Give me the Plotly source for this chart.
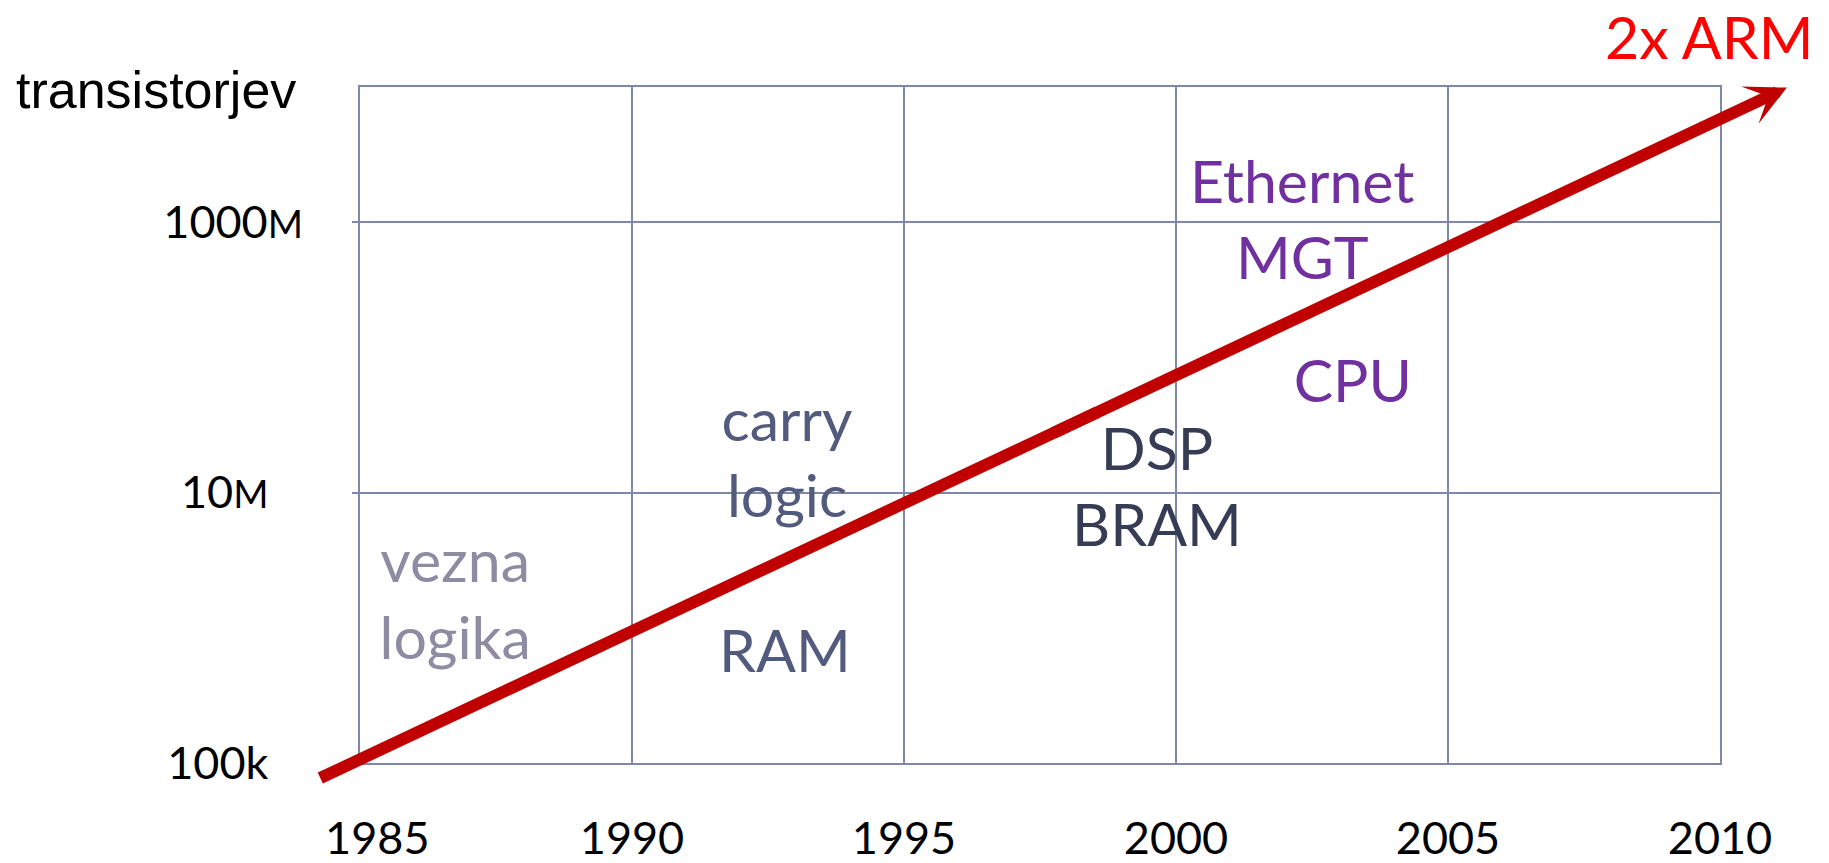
import numpy as np
import plotly.graph_objects as go

# ---- data ----
years = [1985, 1990, 1995, 2000, 2005, 2010]
year_labels = ["\u00a0\u00a0\u00a01985", "1990", "1995", "2000", "2005", "2010"]

count_ticks = [1e5, 1e7, 1e9]
count_labels = [
    "100k\u00a0\u00a0\u00a0",
    "10<span style='font-size:38px'>M</span>\u00a0\u00a0\u00a0",
    "1000<span style='font-size:38px'>M</span>",
]

trend_years = [1984.27, 2011.23]
trend_counts = [7.74e4, 9.9e9]

feature_labels = ["vezna<br>logika", "carry<br>logic", "RAM", "DSP<br>BRAM", "Ethernet<br>MGT", "CPU"]
feature_years = [1986.75, 1992.85, 1992.81, 1999.65, 2002.32, 2003.25]
feature_counts = [1.455e6, 1.62e7, 6.05e5, 9.89e6, 9.33e8, 6.01e7]
feature_colors = ["#8e8ca2", "#525b7d", "#525b7d", "#373c55", "#7030a0", "#7030a0"]

y_title = "transistorjev"
trend_label = "2x ARM"

GRID = "#7f87ab"
ARROW = "#c00000"
LABEL_FONT = "Lato"

fig = go.Figure()

# feature labels placed on the chart's axes
fig.add_trace(go.Scatter(
    x=feature_years, y=feature_counts, mode="text", text=feature_labels,
    textposition="middle center",
    textfont=dict(family=LABEL_FONT, size=59, color=feature_colors),
    cliponaxis=False, hoverinfo="skip", showlegend=False,
))

# trend arrow: it runs past the plot frame at both ends, so it is drawn as two
# annotation arrows on the same x/y axes that meet (overlapping) inside the frame
lx = np.array(trend_years, dtype=float)
ly = np.log10(np.array(trend_counts, dtype=float))
def on_trend(t):
    return lx[0] + t * (lx[1] - lx[0]), ly[0] + t * (ly[1] - ly[0])

mx_a, my_a = on_trend(0.50)
mx_b, my_b = on_trend(0.53)
common = dict(xref="x", yref="y", axref="x", ayref="y", text=" ", showarrow=True,
              arrowwidth=12, arrowcolor=ARROW, borderpad=0, borderwidth=0,
              standoff=0, startstandoff=0, font=dict(size=1))
fig.add_annotation(x=lx[1], y=ly[1], ax=mx_a, ay=my_a, arrowhead=3, arrowsize=0.57, **common)
fig.add_annotation(x=lx[0], y=ly[0], ax=mx_b, ay=my_b, arrowhead=0, **common)

fig.add_annotation(
    x=(14 - 360) / 1360, y=(763 - 90) / 676, xref="paper", yref="paper",
    text=y_title, showarrow=False, xanchor="left", yanchor="middle",
    font=dict(family="Liberation Sans", size=52, color="black"),
)
fig.add_annotation(
    x=(1813 - 360) / 1360, y=(763 - 0.5) / 676, xref="paper", yref="paper",
    text=trend_label, showarrow=False, xanchor="right", yanchor="top",
    borderpad=0, borderwidth=0,
    font=dict(family=LABEL_FONT, size=59, color="#ff0000"),
)

fig.update_layout(
    width=1829, height=863, autosize=False,
    margin=dict(l=360, r=109, t=87, b=100, pad=0),
    paper_bgcolor="white", plot_bgcolor="white",
    showlegend=False, hovermode=False,
    xaxis=dict(
        range=[1985, 2010], tickvals=years, ticktext=year_labels,
        showgrid=True, gridcolor=GRID, gridwidth=2,
        showline=True, linecolor=GRID, linewidth=2, mirror=True,
        ticks="", zeroline=False, ticklabelstandoff=35, automargin=False,
        tickfont=dict(family=LABEL_FONT, size=45, color="black"),
    ),
    yaxis=dict(
        type="log", range=[5, 10], tickvals=count_ticks, ticktext=count_labels,
        showgrid=True, gridcolor=GRID, gridwidth=2,
        showline=True, linecolor=GRID, linewidth=2, mirror=True,
        ticks="outside", ticklen=6, tickwidth=2, tickcolor=GRID,
        zeroline=False, ticklabelstandoff=40, automargin=False,
        tickfont=dict(family=LABEL_FONT, size=45, color="black"),
    ),
)

fig.write_html(
    "out.html",
    config={"displayModeBar": False, "staticPlot": True},
    post_script="document.body.style.margin='0';document.body.style.overflow='hidden';",
)
